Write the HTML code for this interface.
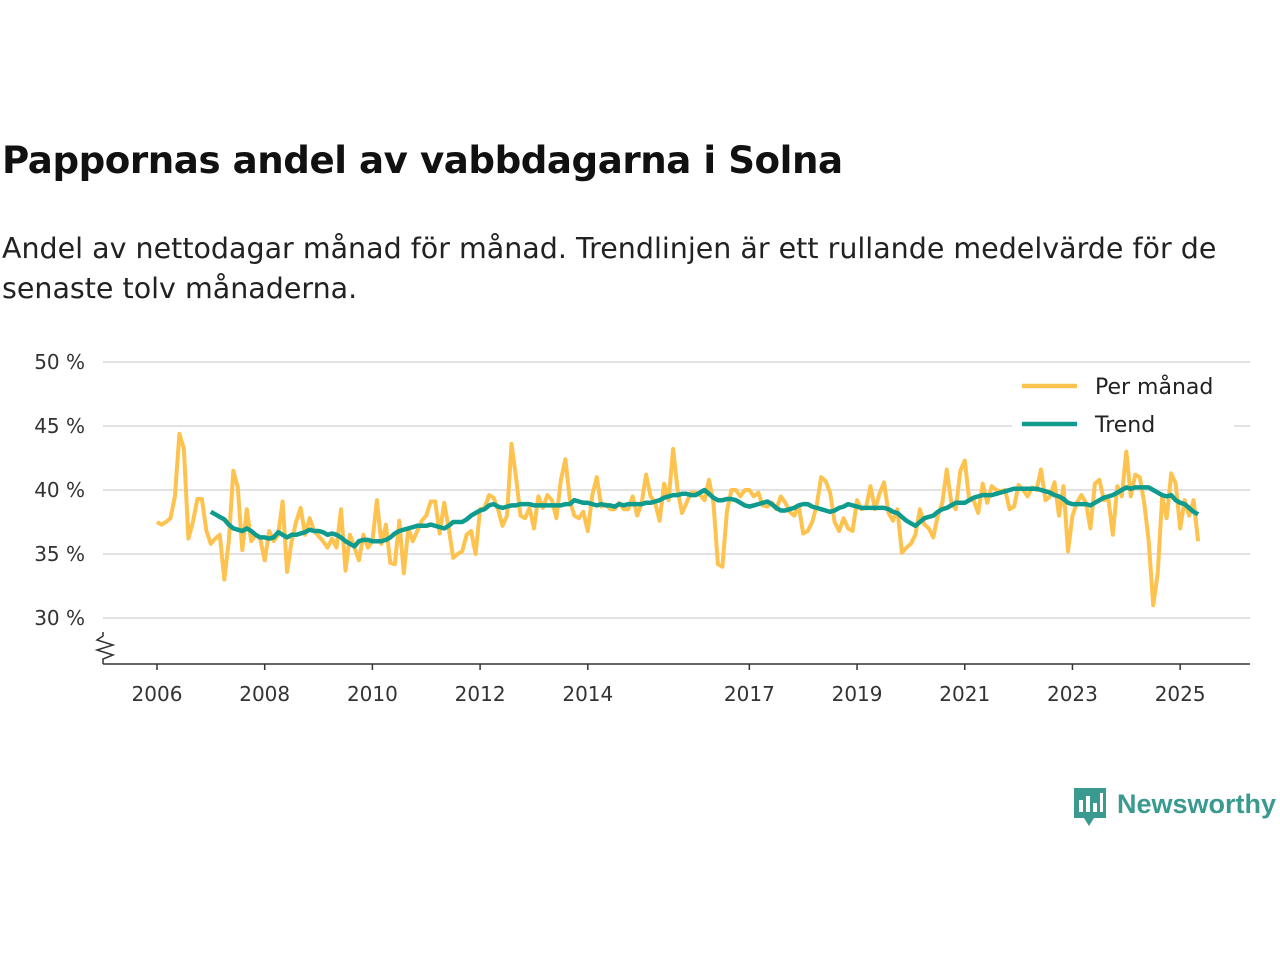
<!DOCTYPE html>
<html><head><meta charset="utf-8"><style>
body{margin:0;background:#fff;font-family:"Liberation Sans","DejaVu Sans",sans-serif;}
#wrap{position:relative;width:1280px;height:960px;overflow:hidden;}
h1{position:absolute;left:2px;top:138px;margin:0;font-size:37.2px;font-weight:bold;color:#111;font-family:"DejaVu Sans","Liberation Sans",sans-serif;letter-spacing:-0.45px}
p.sub{position:absolute;left:2px;top:229px;margin:0;font-size:28.5px;line-height:40px;color:#222;width:1270px;white-space:nowrap;font-family:"DejaVu Sans","Liberation Sans",sans-serif;letter-spacing:0px}
</style></head><body><div id="wrap">
<h1>Pappornas andel av vabbdagarna i Solna</h1>
<p class="sub">Andel av nettodagar månad för månad. Trendlinjen är ett rullande medelvärde för de<br>senaste tolv månaderna.</p>
<svg id="chart" width="1280" height="960" style="position:absolute;left:0;top:0"></svg>
</div>
<script>
const monthly = [
37.5,37.3,37.5,37.8,39.5,44.4,43.2,36.2,37.5,39.3,39.3,36.8,
35.8,36.2,36.5,33.0,36.0,41.5,40.2,35.3,38.5,36.0,36.5,36.2,
34.5,36.8,36.0,36.5,39.1,33.6,36.0,37.5,38.6,36.5,37.8,36.8,
36.4,36.0,35.5,36.2,35.5,38.5,33.7,36.5,35.5,34.5,36.5,35.5,
36.0,39.2,35.8,37.3,34.3,34.2,37.6,33.5,37.0,36.0,36.8,37.6,
38.0,39.1,39.1,36.6,39.0,37.0,34.7,35.0,35.2,36.5,36.8,35.0,
38.5,38.6,39.6,39.4,38.5,37.2,38.0,43.6,41.0,38.0,37.8,38.6,
37.0,39.5,38.6,39.6,39.2,37.8,40.8,42.4,39.2,38.0,37.8,38.3,
36.8,39.6,41.0,38.7,38.9,38.5,38.5,39.0,38.5,38.5,39.5,38.0,
39.0,41.2,39.5,39.0,37.6,40.5,39.2,43.2,40.0,38.2,39.0,39.8,
39.8,39.6,39.2,40.8,39.0,34.2,34.0,38.3,40.0,40.0,39.5,40.0,
40.0,39.5,39.8,38.8,38.7,39.0,38.5,39.5,39.0,38.3,38.0,38.8,
36.6,36.8,37.5,38.8,41.0,40.7,39.8,37.5,36.8,37.8,37.0,36.8,
39.2,38.5,38.6,40.3,38.5,39.7,40.6,38.2,37.6,38.5,35.1,35.5,
35.8,36.5,38.5,37.3,37.0,36.3,38.0,39.0,41.6,39.0,38.5,41.5,
42.3,39.2,39.2,38.2,40.5,39.0,40.3,40.0,39.9,40.0,38.5,38.7,
40.4,40.0,39.5,40.2,40.0,41.6,39.2,39.5,40.6,38.0,40.3,35.2,
38.0,39.0,39.6,39.0,37.0,40.5,40.8,39.2,39.3,36.5,40.3,39.5,
43.0,39.5,41.2,41.0,39.0,36.0,31.0,33.5,39.5,37.8,41.3,40.5,
37.0,39.2,38.0,39.2,36.0];
const trend = [
38.3,38.1,37.9,37.7,37.3,37.0,36.9,36.8,37.0,36.8,36.5,36.3,
36.3,36.2,36.3,36.7,36.5,36.3,36.5,36.5,36.6,36.7,36.9,36.8,
36.8,36.7,36.5,36.6,36.5,36.3,36.0,35.8,35.6,36.0,36.1,36.1,
36.0,36.0,36.0,36.1,36.3,36.6,36.8,36.9,37.0,37.1,37.2,37.2,
37.2,37.3,37.2,37.1,37.0,37.2,37.5,37.5,37.5,37.7,38.0,38.2,
38.4,38.5,38.8,38.9,38.7,38.6,38.7,38.8,38.8,38.9,38.9,38.9,
38.8,38.8,38.8,38.8,38.8,38.8,38.8,38.9,38.9,39.2,39.1,39.0,
39.0,38.9,38.8,38.9,38.8,38.8,38.7,38.9,38.8,38.9,38.9,38.9,
38.9,39.0,39.0,39.1,39.2,39.4,39.5,39.6,39.6,39.7,39.7,39.6,
39.6,39.8,40.0,39.7,39.4,39.2,39.2,39.3,39.3,39.2,39.0,38.8,
38.7,38.8,38.9,39.0,39.1,38.9,38.6,38.4,38.4,38.5,38.6,38.8,
38.9,38.9,38.7,38.6,38.5,38.4,38.3,38.4,38.6,38.7,38.9,38.8,
38.7,38.6,38.6,38.6,38.6,38.6,38.6,38.5,38.3,38.2,37.9,37.6,
37.4,37.2,37.5,37.8,37.9,38.0,38.3,38.5,38.6,38.8,39.0,39.0,
39.0,39.2,39.4,39.5,39.6,39.6,39.6,39.7,39.8,39.9,40.0,40.1,
40.1,40.1,40.1,40.1,40.1,40.0,39.9,39.8,39.6,39.5,39.3,39.0,
38.9,38.9,38.9,38.9,38.8,39.0,39.2,39.4,39.5,39.6,39.8,40.0,
40.2,40.1,40.2,40.2,40.2,40.2,40.0,39.8,39.6,39.5,39.6,39.2,
39.0,38.9,38.6,38.3,38.1];
const startYear = 2006, trendStartYear = 2007;
const yTicks = [30,35,40,45,50];
const yTickLabels = ["30 %","35 %","40 %","45 %","50 %"];
const xTicks = [2006,2008,2010,2012,2014,2017,2019,2021,2023,2025];

const NS="http://www.w3.org/2000/svg";
const svg=document.getElementById('chart');
function X(yearFrac){return 157+(yearFrac-2006)*53.85;}
function Y(v){return 490-(v-40)*12.8;}
function mk(t,a,p){const e=document.createElementNS(NS,t);for(const k in a)e.setAttribute(k,a[k]);(p||svg).appendChild(e);return e;}
const ff='"DejaVu Sans","Liberation Sans",sans-serif';
yTicks.forEach((v,i)=>{
  const g=mk('line',{x1:103,x2:1250,y1:Y(v),y2:Y(v),stroke:'#d9d9d9','stroke-width':1.5});
  
  
  const t=mk('text',{x:85,y:Y(v)+7,'text-anchor':'end','font-size':20,fill:'#333','font-family':ff});
  t.textContent=yTickLabels[i];
  
  
});
const ax=mk('line',{x1:103,x2:1250,y1:664,y2:664,stroke:'#333','stroke-width':1.5});


const br=mk('polyline',{points:'103,632 103,636 97,640 113,645 97,650 113,655 103,659 103,664',fill:'none',stroke:'#333','stroke-width':1.5});


xTicks.forEach(yr=>{
  const l=mk('line',{x1:X(yr),x2:X(yr),y1:664,y2:670,stroke:'#333','stroke-width':1.5});
  
  
  const t=mk('text',{x:X(yr),y:701,'text-anchor':'middle','font-size':20,fill:'#333','font-family':ff});
  t.textContent=yr;
  
  
});
function pts(arr,sy){return arr.map((v,i)=>X(sy+i/12).toFixed(1)+','+Y(v).toFixed(1)).join(' ');}
const m=mk('polyline',{points:pts(monthly,startYear),fill:'none',stroke:'#fec24f','stroke-width':4,'stroke-linejoin':'round'});


const tr=mk('polyline',{points:pts(trend,trendStartYear),fill:'none',stroke:'#0f9b8e','stroke-width':4.5,'stroke-linejoin':'round'});


// legend
const lb=mk('rect',{x:1012,y:368,width:222,height:66,fill:'#fff'});


[['Per månad','#fec24f',386],['Trend','#0f9b8e',424]].forEach(([n,c,y])=>{
  const l=mk('line',{x1:1022,x2:1077,y1:y,y2:y,stroke:c,'stroke-width':4.5});
  
  
  const t=mk('text',{x:1095,y:y+8,'font-size':22,fill:'#222','font-family':ff});
  t.textContent=n;
  
  
});
// logo
const lg=mk('g',{});


mk('path',{d:'M1074,788 h32 v30 h-12 l-5,8 l-5,-8 h-10 z',fill:'#3a9a8f'},lg);
[[1079,800,4,12],[1086,796,4,16],[1093,803,4,9],[1100,793,3,19]].forEach(r=>mk('rect',{x:r[0],y:r[1],width:r[2],height:r[3],fill:'#fff'},lg));
const lt=mk('text',{x:1117,y:813,'font-size':27,'font-weight':'bold',fill:'#3a9a8f','font-family':'"Liberation Sans",sans-serif'},lg);
lt.textContent='Newsworthy';
</script></body></html>
